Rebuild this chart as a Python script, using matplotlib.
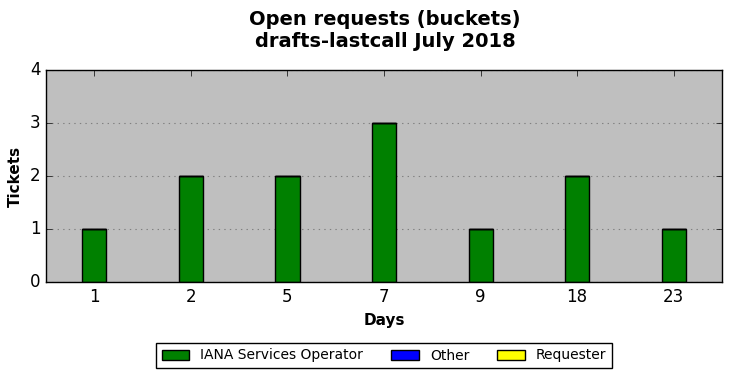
import numpy as np
import matplotlib
matplotlib.use("Agg")
import matplotlib.pyplot as plt

# data
days = ["1", "2", "5", "7", "9", "18", "23"]
iana = [1, 2, 2, 3, 1, 2, 1]
other = [0, 0, 0, 0, 0, 0, 0]
requester = [0, 0, 0, 0, 0, 0, 0]

plt.style.use("classic")
plt.rcParams["font.family"] = "DejaVu Sans"

fig = plt.figure(figsize=(7.32, 3.78), dpi=100, facecolor="white")
ax = fig.add_axes([46 / 732, 1 - 282 / 378, 676 / 732, 212 / 378])
ax.set_facecolor("#bfbfbf")

x = np.arange(len(days))
w = 0.25
ax.bar(x, iana, w, color="green", edgecolor="black", align="center",
       label="IANA Services Operator")
ax.bar(x, other, w, bottom=iana, color="blue", edgecolor="black",
       align="center", label="Other")
bottom2 = np.array(iana) + np.array(other)
ax.bar(x, requester, w, bottom=bottom2, color="yellow", edgecolor="black",
       align="center", label="Requester")

ax.set_xlim(-0.5, len(days) - 0.5)
ax.set_ylim(0, 4)
ax.set_xticks(x)
ax.set_xticklabels(days)
ax.set_yticks([0, 1, 2, 3, 4])
ax.tick_params(labelsize=12)
ax.yaxis.grid(True, linestyle=":", color="#808080", linewidth=0.8)
ax.set_axisbelow(True)

ax.set_xlabel("Days", fontsize=11, fontweight="bold")
ax.set_ylabel("Tickets", fontsize=11, fontweight="bold")
fig.suptitle("Open requests (buckets)\ndrafts-lastcall July 2018",
             fontsize=14, fontweight="bold", x=385 / 732, y=0.974)

fig.legend(loc="center", bbox_to_anchor=(384 / 732, 1 - 355.5 / 378), ncol=3,
           fontsize=10, frameon=True, fancybox=False, handlelength=2.0,
           columnspacing=2.0, borderpad=0.4)

fig.savefig("out.png", dpi=100, facecolor="white")
